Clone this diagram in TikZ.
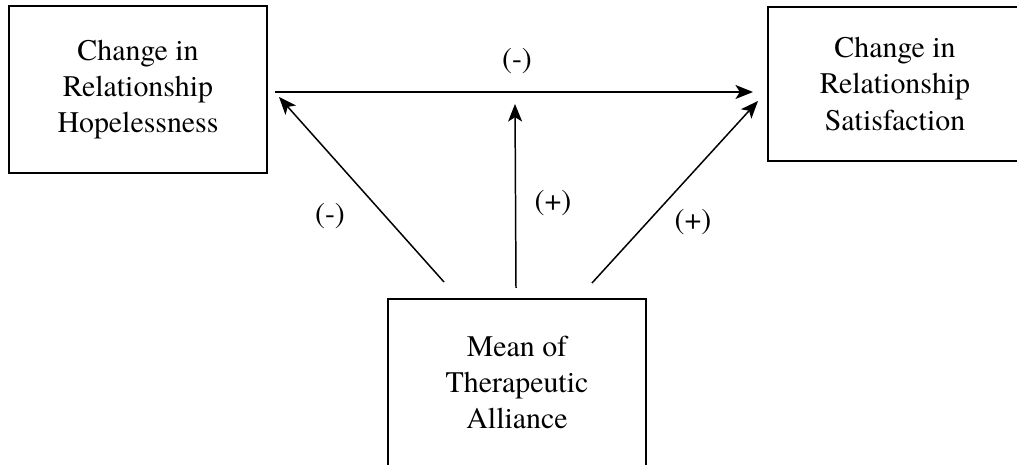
\documentclass[tikz,border=0pt]{standalone}
\usepackage{fontspec}
\newfontfamily\diagfont{TeX Gyre Termes}
\usetikzlibrary{arrows.meta}

\begin{document}
\begin{tikzpicture}[
        x=0.02cm, y=-0.02cm,
        >={Stealth[length=10pt,width=8pt,inset=2.5pt]},
        box/.style={draw, line width=1.1pt, align=center, inner sep=0pt,
          font=\diagfont\fontsize{17}{20.5}\selectfont},
        path/.style={->, line width=0.85pt},
        sign/.style={font=\diagfont\fontsize{17}{20.5}\selectfont}
      ]

      \useasboundingbox (0,0) rectangle (1017,465);

      % the three boxes
      \node[box, minimum width=5.16cm, minimum height=3.34cm] (hope) at (138,89.5)
        {Change in\\Relationship\\Hopelessness};
      \node[box, minimum width=5.08cm, minimum height=3.08cm] (sat) at (895,84)
        {Change in\\Relationship\\Satisfaction};
      \node[box, minimum width=5.16cm, minimum height=3.34cm] (alliance) at (517,382.5)
        {Mean of\\Therapeutic\\Alliance};

      % arrow ends
      \coordinate (hopeOut) at (275,92);
      \coordinate (satIn) at (753,92);
      \coordinate (hopeIn) at (279,97);
      \coordinate (midIn) at (515,104);
      \coordinate (satIn2) at (758,101);
      \coordinate (allianceL) at (444,282);
      \coordinate (allianceM) at (516,288);
      \coordinate (allianceR) at (592,283);

      \draw[path] (hopeOut) -- (satIn);
      \draw[path] (allianceL) -- (hopeIn);
      \draw[path] (allianceM) -- (midIn);
      \draw[path] (allianceR) -- (satIn2);

      % signs
      \node[sign] (signTop) at (517,61) {(-)};
      \node[sign] (signLeft) at (330,216) {(-)};
      \node[sign] (signMid) at (553,203) {(+)};
      \node[sign] (signRight) at (693,222) {(+)};
    \end{tikzpicture}
\end{document}
